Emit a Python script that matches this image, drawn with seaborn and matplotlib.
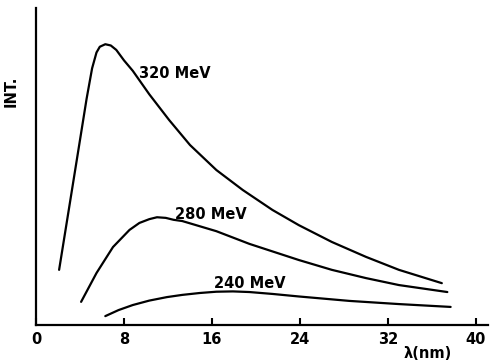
import pandas as pd
import matplotlib.pyplot as plt
import seaborn as sns

# wavelength (nm) / intensity (arb. units, 0-100)
WL_320 = [2.1, 3.0, 4.0, 4.6, 5.1, 5.5, 5.8, 6.3, 6.8, 7.3, 8.0, 8.8, 10.3, 12.1, 14.0,
          16.4, 18.8, 21.5, 23.9, 26.9, 30.0, 33.0, 36.9]
INT_320 = [17.4, 36.8, 58.4, 71.4, 81.0, 86.0, 87.8, 88.6, 88.2, 86.8, 83.5, 80.2, 72.8, 64.7, 56.8,
           48.9, 42.6, 36.3, 31.5, 26.2, 21.5, 17.4, 13.2]

WL_280 = [4.1, 5.5, 7.0, 8.5, 9.4, 10.3, 11.0, 11.8, 12.5, 13.3, 16.4, 19.4, 23.9, 26.9, 30.0,
          33.0, 37.4]
INT_280 = [7.3, 16.4, 24.6, 30.0, 32.2, 33.4, 34.0, 33.8, 33.2, 32.8, 29.6, 25.6, 20.5, 17.4, 14.8,
           12.6, 10.4]

WL_240 = [6.3, 7.5, 8.8, 10.3, 11.9, 13.3, 14.9, 16.4, 17.9, 19.4, 21.5, 23.9, 28.5, 33.0, 37.7]
INT_240 = [2.8, 4.7, 6.3, 7.7, 8.8, 9.5, 10.1, 10.5, 10.6, 10.4, 9.8, 9.0, 7.6, 6.6, 5.7]

LABELS = ["320 MeV", "280 MeV", "240 MeV"]
LABEL_POS = [(9.4, 79.5), (12.6, 34.9), (16.2, 13.2)]
X_TICKS = [0, 8, 16, 24, 32, 40]


def build_frame():
    parts = []
    for label, wl, inten in zip(LABELS, [WL_320, WL_280, WL_240], [INT_320, INT_280, INT_240]):
        parts.append(pd.DataFrame({"wl": wl, "int": inten, "energy": label}))
    return pd.concat(parts, ignore_index=True)


def main():
    sns.set_style("ticks")
    plt.rcParams["font.family"] = ["DejaVu Sans"]
    plt.rcParams["font.weight"] = "bold"
    plt.rcParams["text.color"] = "black"
    plt.rcParams["axes.labelcolor"] = "black"
    plt.rcParams["xtick.color"] = "black"
    plt.rcParams["axes.edgecolor"] = "black"

    df = build_frame()
    fig = plt.figure(figsize=(4.92, 3.63), dpi=100)
    ax = fig.add_axes([0.0732, 0.1047, 0.9187, 0.873])

    sns.lineplot(
        data=df, x="wl", y="int", hue="energy", units="energy",
        palette=["black"] * 3, estimator=None, sort=False,
        linewidth=1.6, legend=False, ax=ax,
    )

    for label, (x, y) in zip(LABELS, LABEL_POS):
        ax.text(x, y, label, fontsize=10.5, fontweight="bold", ha="left", va="center")

    ax.set_xlim(0, 41.1)
    ax.set_ylim(0, 100)
    ax.set_xticks(X_TICKS)
    ax.set_xticklabels([str(t) for t in X_TICKS], fontsize=10.5, fontweight="bold")
    ax.set_yticks([])
    ax.tick_params(axis="x", direction="in", length=5, width=1.5, pad=5)

    sns.despine(ax=ax)
    for side in ["left", "bottom"]:
        ax.spines[side].set_linewidth(1.6)

    ax.set_xlabel("λ(nm)", fontsize=10.5, fontweight="bold")
    ax.xaxis.set_label_coords(0.867, -0.066)
    ax.set_ylabel("INT.", fontsize=10.5, fontweight="bold")
    ax.yaxis.set_label_coords(-0.038, 0.738)

    fig.savefig("out.png", dpi=100)
    plt.close(fig)


if __name__ == "__main__":
    main()
